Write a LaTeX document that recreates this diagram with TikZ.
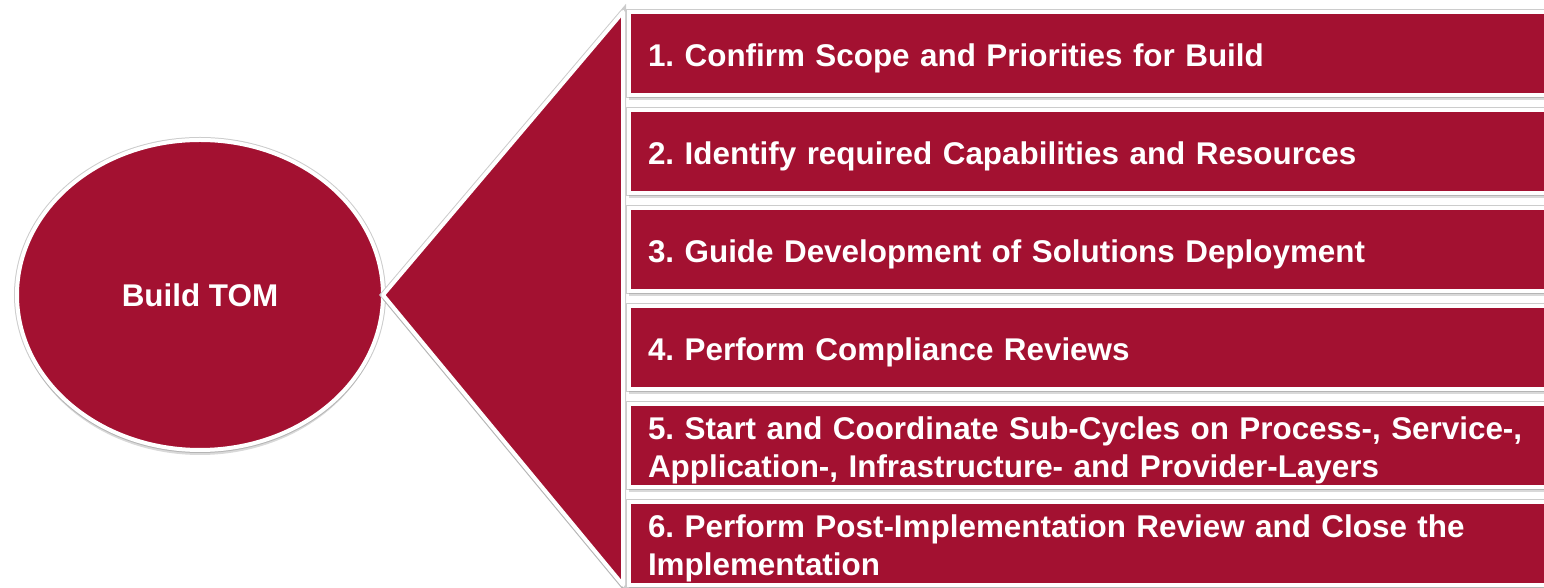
\documentclass[tikz,border=0pt]{standalone}
\usepackage{fontspec}
\setmainfont{Liberation Sans}
\usepackage{tikz}
\usetikzlibrary{shapes.geometric, positioning, shadows}
\definecolor{tomred}{RGB}{163,17,49}
\frenchspacing

\begin{document}
\begin{tikzpicture}[
  node distance=7.5pt,
  font=\fontsize{15.7}{19}\selectfont\bfseries,
  base/.style={draw=white, line width=2pt, fill=tomred, text=white, outer sep=0pt,
    preaction={draw=black!20, line width=3pt},
    drop shadow={shadow xshift=0pt, shadow yshift=-2.5pt, opacity=0.3}},
  hub/.style={base, ellipse, minimum width=183pt, minimum height=155pt, inner sep=0pt},
  stepbox/.style={base, rectangle, anchor=north west, minimum width=480pt, minimum height=41.5pt,
    inner xsep=9.5pt, inner ysep=0pt, text width=461pt, align=left,
    execute at begin node={\rule{0pt}{16pt}}},
  fan/.style={base, line join=round},
]
  \useasboundingbox (0,0) rectangle (772pt,294pt);

  \node[stepbox] (s1) at (314.5pt,288pt) {1. Confirm Scope and Priorities for Build};
  \node[stepbox, below=of s1] (s2) {2. Identify required Capabilities and Resources};
  \node[stepbox, below=of s2] (s3) {3. Guide Development of Solutions Deployment};
  \node[stepbox, below=of s3] (s4) {4. Perform Compliance Reviews};
  \node[stepbox, below=of s4] (s5) {5. Start and Coordinate Sub-Cycles on Process-, Service-,\\ Application-, Infrastructure- and Provider-Layers};
  \node[stepbox, below=of s5] (s6) {6. Perform Post-Implementation Review and Close the\\ Implementation};

  \node[hub] (tom) at (100pt,146.5pt) {Build TOM};

  \coordinate (fantop) at ([xshift=-3pt]s1.north west);
  \coordinate (fanbot) at ([xshift=-3pt]s6.south west);
  \draw[fan] (tom.east) -- (fantop) -- (fanbot) -- cycle;
\end{tikzpicture}
\end{document}
